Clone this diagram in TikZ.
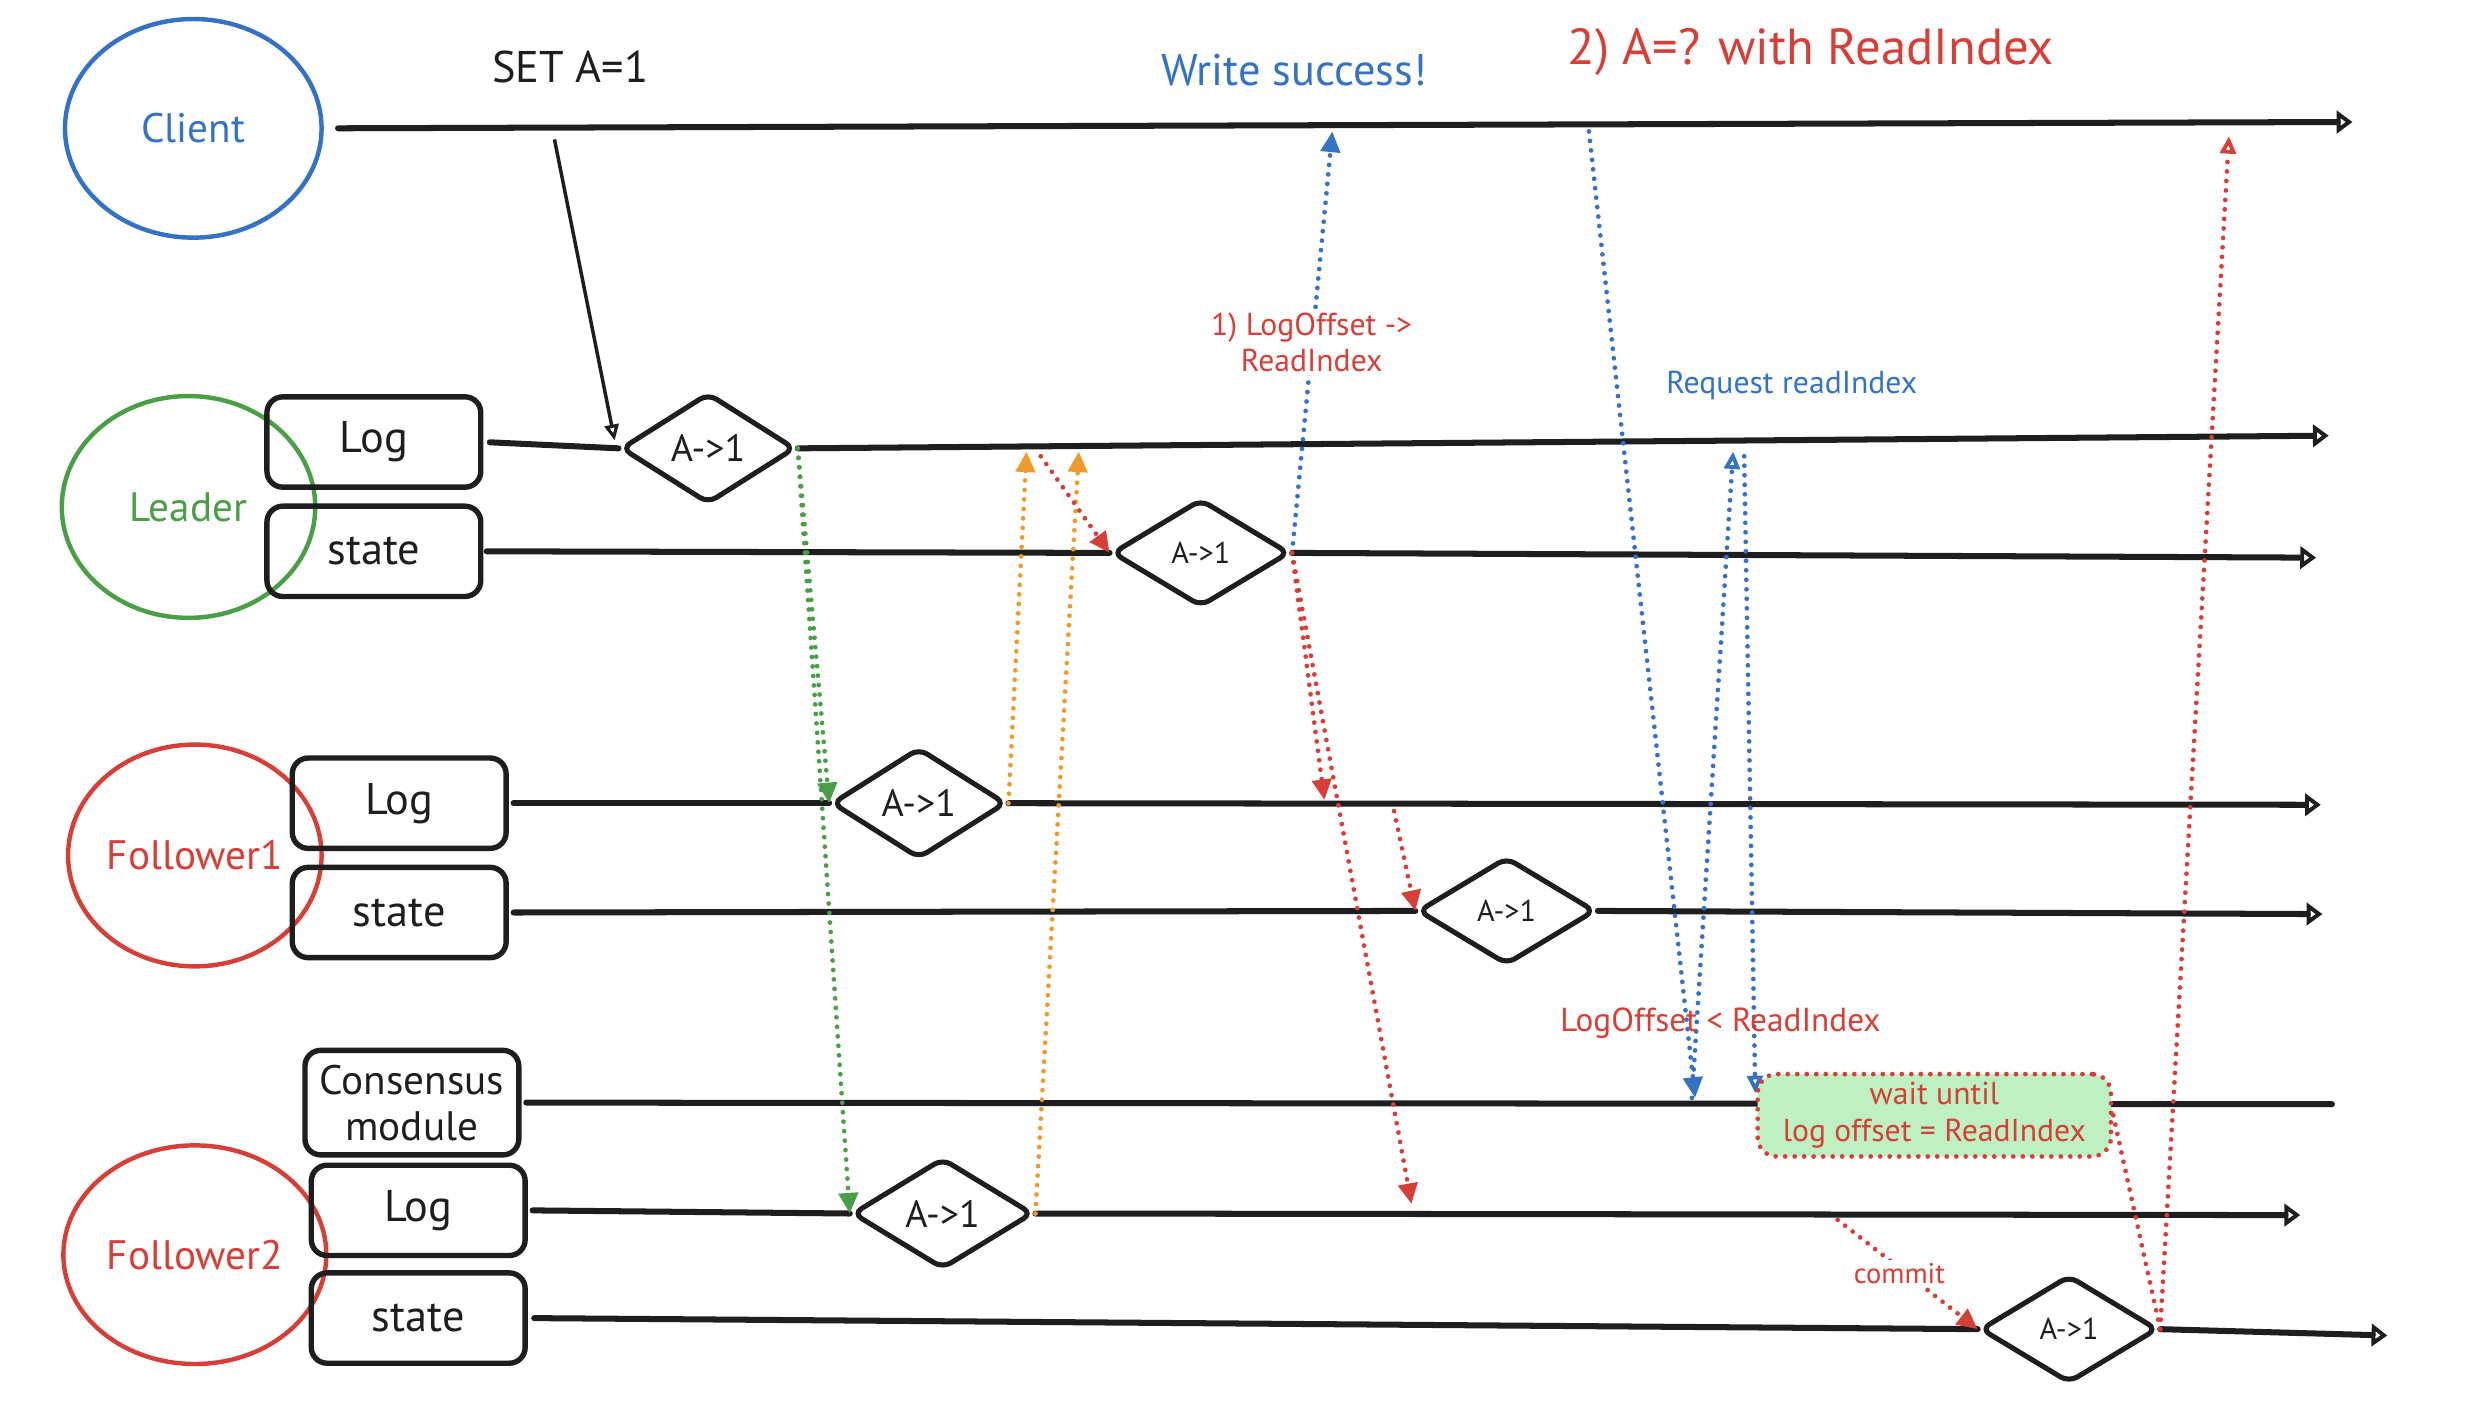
\documentclass[tikz,border=0pt]{standalone}
\usepackage{fontspec}
\setmainfont{PT Sans}
\usetikzlibrary{arrows.meta,shapes.geometric}
\definecolor{ink}{HTML}{1E1E1E}
\definecolor{cblue}{HTML}{3572C4}
\definecolor{cgreen}{HTML}{4A9E46}
\definecolor{cred}{HTML}{D63F38}
\definecolor{corange}{HTML}{EE9A2E}
\definecolor{wfill}{HTML}{BFF0C2}
\begin{document}
\begin{tikzpicture}[x=0.5pt,y=-0.5pt,
 tl/.style={draw=ink,line width=1.9pt,line cap=round},
 tlarrow/.style={tl,-{Triangle[open,length=5pt,width=7pt,line width=1.5pt]}},
 box/.style={draw=ink,line width=1.7pt,rounded corners=5pt,minimum width=67.5pt,minimum height=28.5pt,inner sep=0pt,font=\fontsize{14}{16}\selectfont,text=ink,align=center},
 dia/.style={diamond,draw=ink,fill=white,line width=1.6pt,rounded corners=3pt,minimum width=55pt,minimum height=35pt,inner sep=0pt,text=ink,font=\fontsize{12}{14}\selectfont},
 diasm/.style={dia,font=\fontsize{9.5}{11}\selectfont},
 actor/.style={ellipse,line width=1.4pt,inner sep=0pt,font=\fontsize{13}{15}\selectfont},
 dots/.style={line width=1.5pt,line cap=round,dash pattern=on 0pt off 3pt},
 fa/.style={-{Triangle[length=6.5pt,width=6pt]}},
 oa/.style={-{Triangle[open,length=5.5pt,width=5pt,line width=1.2pt]}},
 lbl/.style={inner sep=1pt,align=center},
]
\path[use as bounding box] (0,0) rectangle (1568,896);

% actors
\node[actor,draw=cblue,text=cblue,minimum width=81pt,minimum height=69pt] (client) at (122,81) {Client};
\node[actor,draw=cgreen,text=cgreen,minimum width=80pt,minimum height=70pt] (leader) at (119,320) {Leader};
\node[actor,draw=cred,text=cred,minimum width=80pt,minimum height=70pt] (fone) at (123,540) {Follower1};
\node[actor,draw=cred,text=cred,minimum width=83pt,minimum height=69pt] (ftwo) at (123,792) {Follower2};

% boxes
\node[box] (llog) at (236,279) {Log};
\node[box] (lstate) at (236,348) {state};
\node[box] (f1log) at (252,507) {Log};
\node[box] (f1state) at (252,576) {state};
\node[box,minimum height=33pt,font=\fontsize{13}{14.5}\selectfont] (cons) at (260,696) {Consensus\\module};
\node[box] (f2log) at (264,764) {Log};
\node[box] (f2state) at (264,832) {state};

% diamonds
\node[dia] (d1) at (447,283) {A->1};
\node[diasm,minimum width=56pt,minimum height=34pt] (d2) at (758,349) {A->1};
\node[dia] (d3) at (580,507) {A->1};
\node[diasm,minimum width=56pt,minimum height=34pt] (d4) at (951,575) {A->1};
\node[dia,minimum width=57pt] (d5) at (595,766) {A->1};
\node[diasm,minimum width=56pt,minimum height=34pt] (d6) at (1306,839) {A->1};

% end coordinates
\coordinate (cE) at (1485,77);
\coordinate (llE) at (1470,275);
\coordinate (lsE) at (1462,352);
\coordinate (f1lE) at (1465,508);
\coordinate (f1sE) at (1466,577);
\coordinate (consE) at (1472,697);
\coordinate (f2lE) at (1452,767);
\coordinate (f2sE) at (1507,843);

% timelines
\draw[tlarrow,shorten <=4.5pt] (client.east) -- (cE);
\draw[tl,shorten <=2pt] (llog.east) -- (d1.west);
\draw[tlarrow] (d1.east) -- (llE);
\draw[tl,shorten <=1pt] (lstate.east) -- (d2.west);
\draw[tlarrow] (d2.east) -- (lsE);
\draw[tl,shorten <=1.5pt] (f1log.east) -- (d3.west);
\draw[tlarrow] (d3.east) -- (f1lE);
\draw[tl,shorten <=1.5pt] (f1state.east) -- (d4.west);
\draw[tlarrow] (d4.east) -- (f1sE);
\draw[tl,shorten <=1.5pt] (cons.east) -- (consE);
\draw[tl,shorten <=1.5pt] (f2log.east) -- (d5.west);
\draw[tlarrow] (d5.east) -- (f2lE);
\draw[tl,shorten <=2pt] (f2state.east) -- (d6.west);
\draw[tlarrow] (d6.east) -- (f2sE);

% SET arrow
\coordinate (setS) at (350,88);
\coordinate (setE) at (388,278);
\draw[ink,line width=1.1pt,-{Triangle[open,length=5pt,width=4.5pt,line width=1pt]}] (setS) -- (setE);

% coloured messages
\coordinate (o1) at (648,285);
\coordinate (o2) at (681,285);
\coordinate (r0) at (657,288);
\coordinate (ws) at (841,83);
\coordinate (r1) at (836,505);
\coordinate (r2) at (891,760);
\coordinate (r3) at (880,512);
\coordinate (b0) at (1003,83);
\coordinate (b1) at (1070,693);
\coordinate (b2) at (1068,693);
\coordinate (b3) at (1094,285);
\coordinate (b4) at (1101,288);
\coordinate (b5) at (1108,690);
\coordinate (c0) at (1160,770);
\coordinate (cl) at (1407,86);

\draw[dots,cgreen,fa] (d1.east) -- (d3.west);
\draw[dots,cgreen,fa] (d1.east) -- (d5.west);
\draw[dots,corange,fa] (d3.east) -- (o1);
\draw[dots,corange,fa] (d5.east) -- (o2);
\draw[dots,cred,fa] (r0) -- (d2.west);
\draw[dots,cblue,fa] (d2.east) -- (ws);
\draw[dots,cred,fa] (d2.east) -- (r1);
\draw[dots,cred,fa] (d2.east) -- (r2);
\draw[dots,cred,fa] (r3) -- (d4.west);
\draw[dots,cblue,fa] (b0) -- (b1);
\draw[dots,cblue,oa] (b2) -- (b3);
\draw[dots,cblue,oa] (b4) -- (b5);

% wait box
\node[draw=cred,dots,fill=wfill,rounded corners=6pt,minimum width=111.5pt,minimum height=26pt,text=cred,align=center,font=\fontsize{10}{11.5}\selectfont,inner sep=1pt] (wait) at (1221,704) {wait until\\log offset = ReadIndex};

\draw[dots,cred,fa] (c0) -- (d6.west);
\draw[dots,cred] (wait.east) -- (d6.east);
\draw[dots,cred,oa] (d6.east) -- (cl);

% labels
\node[lbl,text=ink,font=\fontsize{14}{16}\selectfont] (setl) at (360,42) {SET A=1};
\node[lbl,text=cblue,font=\fontsize{14}{16}\selectfont] (wsl) at (817,44) {Write success!};
\node[lbl,text=cred,font=\fontsize{16}{18}\selectfont] (readl) at (1143,33) {2) A=? with ReadIndex};
\node[lbl,fill=white,text=cred,font=\fontsize{10}{11.5}\selectfont] (lol) at (828,216) {1) LogOffset ->\\ReadIndex};
\node[lbl,text=cblue,font=\fontsize{10}{12}\selectfont] (rql) at (1131,243) {Request readIndex};
\node[lbl,text=cred,font=\fontsize{10.5}{12}\selectfont] (ltl) at (1086,646) {LogOffset < ReadIndex};
\node[lbl,fill=white,text=cred,font=\fontsize{9}{11}\selectfont] (cml) at (1199,804) {commit};
\end{tikzpicture}
\end{document}
